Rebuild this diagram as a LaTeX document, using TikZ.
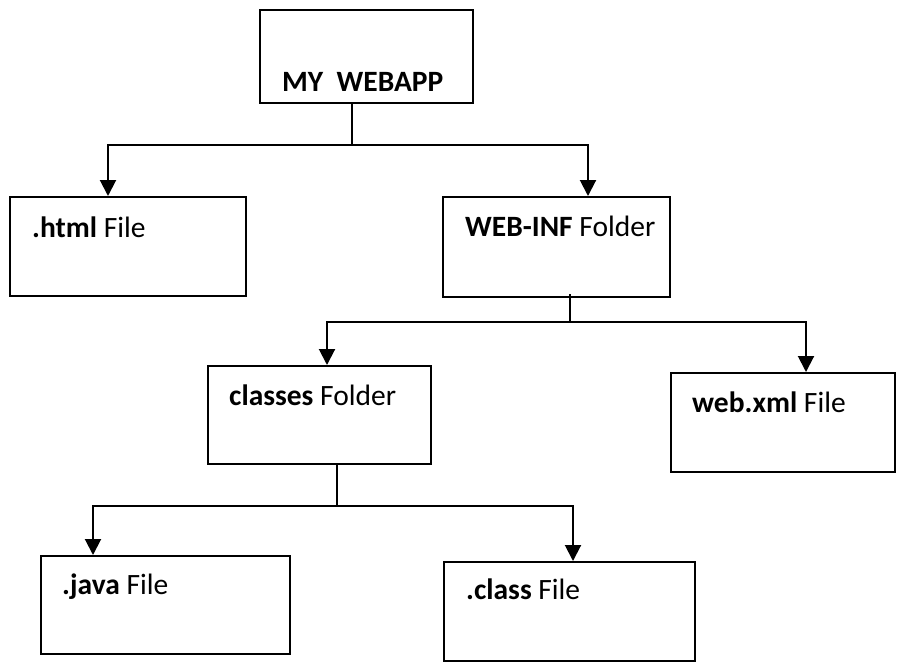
\documentclass[tikz,border=0pt]{standalone}
\usepackage{fontspec}
\setmainfont{Carlito}
\usetikzlibrary{arrows.meta}
\begin{document}
\begin{tikzpicture}[x=1pt,y=-1pt,
  box/.style={draw=black,line width=2pt,rectangle,inner sep=0pt},
  conn/.style={draw=black,line width=2pt},
  arr/.style={conn,-{Triangle[width=16pt,length=16pt]}},
  lbl/.style={anchor=base west,inner sep=0pt,font=\fontsize{29.5}{34}\selectfont}]
\useasboundingbox (0,0) rectangle (912,662);
% boxes
\node[box,minimum width=213pt,minimum height=93pt] (top) at (366.5,56.5) {};
\node[box,minimum width=236pt,minimum height=99pt] (html) at (128,246.5) {};
\node[box,minimum width=227pt,minimum height=100pt] (webinf) at (556.5,247) {};
\node[box,minimum width=223pt,minimum height=98pt] (classes) at (319.5,415) {};
\node[box,minimum width=224pt,minimum height=99pt] (webxml) at (783,422.5) {};
\node[box,minimum width=249pt,minimum height=98pt] (java) at (165.5,605) {};
\node[box,minimum width=251pt,minimum height=99pt] (class) at (569.5,611.5) {};
% labels
\node[lbl] (ttop) at (282,91) {\textbf{MY\ \ WEBAPP}};
\node[lbl] (thtml) at (32,237) {\textbf{.html} File};
\node[lbl] (twebinf) at (465,236) {\textbf{WEB-INF} Folder};
\node[lbl] (tclasses) at (229,405) {\textbf{classes} Folder};
\node[lbl] (twebxml) at (692,412) {\textbf{web.xml} File};
\node[lbl] (tjava) at (62,594) {\textbf{.java} File};
\node[lbl] (tclass) at (466,599) {\textbf{.class} File};
% junctions
\coordinate (j1) at (352,145);
\coordinate (j2) at (570,322);
\coordinate (j3) at (337,506);
% connectors level 1
\draw[conn] (top.south -| j1) -- (j1);
\draw[arr] (j1) -| (108,0 |- html.north);
\draw[arr] (j1) -| (588,0 |- webinf.north);
% connectors level 2
\draw[conn] ([yshift=4pt]webinf.south -| j2) -- (j2);
\draw[arr] (j2) -| (327,0 |- classes.north);
\draw[arr] (j2) -| (806,0 |- webxml.north);
% connectors level 3
\draw[conn] (classes.south -| j3) -- (j3);
\draw[arr] (j3) -| (93,0 |- java.north);
\draw[arr] (j3) -| (573,0 |- class.north);
\end{tikzpicture}
\end{document}
